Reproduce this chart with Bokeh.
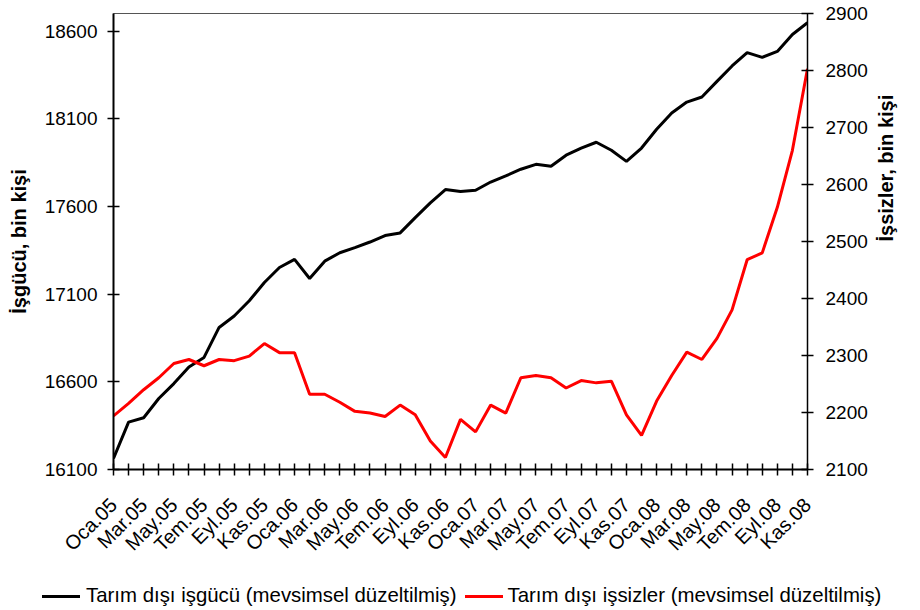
import math
from bokeh.plotting import figure
from bokeh.layouts import column
from bokeh.models import Range1d, LinearAxis, FixedTicker, Div
from bokeh.embed import file_html
from bokeh.resources import INLINE

# ---- data ----
month_names = ["Oca", "Şub", "Mar", "Nis", "May", "Haz", "Tem", "Ağu", "Eyl", "Eki", "Kas", "Ara"]
years = ["05", "06", "07", "08"]
categories = [f"{m}.{y}" for y in years for m in month_names][:47]  # Oca.05 .. Kas.08

labor_force = [16163, 16370, 16395, 16505, 16590, 16685, 16739, 16910, 16975, 17062,
               17166, 17252, 17298, 17189, 17288, 17336, 17365, 17397, 17434, 17449,
               17536, 17620, 17696, 17685, 17692, 17739, 17774, 17812, 17840, 17829,
               17892, 17932, 17966, 17920, 17857, 17933, 18040, 18133, 18195, 18224,
               18313, 18401, 18477, 18450, 18484, 18580, 18648]

unemployed = [2194, 2216, 2240, 2261, 2286, 2293, 2282, 2293, 2291, 2299,
              2321, 2305, 2305, 2232, 2232, 2218, 2202, 2199, 2193, 2213,
              2196, 2150, 2121, 2188, 2166, 2213, 2199, 2261, 2265, 2261,
              2243, 2256, 2252, 2255, 2196, 2160, 2220, 2265, 2306, 2293,
              2330, 2380, 2468, 2480, 2560, 2660, 2803]

left_ticks = [16100, 16600, 17100, 17600, 18100, 18600]
right_ticks = [2100, 2200, 2300, 2400, 2500, 2600, 2700, 2800, 2900]

series_names = ["Tarım dışı işgücü (mevsimsel düzeltilmiş)",
                "Tarım dışı işsizler (mevsimsel düzeltilmiş)"]
series_colors = ["black", "#FF0000"]
left_title = "İşgücü, bin kişi"
right_title = "İşsizler, bin kişi"

FONT = "Liberation Sans"
xs = list(range(len(categories)))

p = figure(width=910, height=570, output_backend="svg", toolbar_location=None,
           x_range=Range1d(0, len(categories) - 1), y_range=Range1d(16100, 18700),
           min_border_left=113, min_border_right=97, min_border_top=13, min_border_bottom=101)
p.extra_y_ranges = {"right": Range1d(2100, 2900)}

p.xgrid.visible = False
p.ygrid.visible = False
p.outline_line_color = "#555555"
p.outline_line_width = 1
p.background_fill_color = "white"
p.border_fill_color = "white"

p.line(xs, labor_force, line_color=series_colors[0], line_width=3)
p.line(xs, unemployed, line_color=series_colors[1], line_width=3, y_range_name="right")

# x axis
xa = p.xaxis[0]
xa.ticker = FixedTicker(ticks=xs)
xa.major_label_overrides = {i: (categories[i] if i % 2 == 0 else "") for i in xs}
xa.major_label_orientation = math.pi / 4
xa.major_label_text_font = FONT
xa.major_label_text_font_size = "20px"
xa.major_label_text_color = "black"
xa.major_tick_in = 6
xa.major_tick_out = 6
xa.minor_tick_line_color = None
xa.axis_line_width = 2
xa.major_tick_line_width = 1.5
xa.major_label_standoff = 26

# left axis
ya = p.yaxis[0]
ya.ticker = FixedTicker(ticks=left_ticks)
ya.axis_label = left_title
ya.axis_label_text_font = FONT
ya.axis_label_text_font_size = "20px"
ya.axis_label_text_font_style = "bold"
ya.axis_label_text_color = "black"
ya.axis_label_standoff = 12
ya.major_label_text_font = FONT
ya.major_label_text_font_size = "19px"
ya.major_label_text_color = "black"
ya.major_tick_in = 6
ya.major_tick_out = 6
ya.minor_tick_line_color = None
ya.axis_line_width = 2
ya.major_tick_line_width = 1.5
ya.major_label_standoff = 10

# right axis
ra = LinearAxis(y_range_name="right", ticker=FixedTicker(ticks=right_ticks))
ra.axis_label = right_title
ra.axis_label_orientation = math.pi / 2
ra.axis_label_text_font = FONT
ra.axis_label_text_font_size = "20px"
ra.axis_label_text_font_style = "bold"
ra.axis_label_text_color = "black"
ra.axis_label_standoff = 15
ra.major_label_text_font = FONT
ra.major_label_text_font_size = "19px"
ra.major_label_text_color = "black"
ra.major_tick_in = 6
ra.major_tick_out = 6
ra.minor_tick_line_color = None
ra.axis_line_width = 1.5
ra.major_tick_line_width = 1.5
ra.major_label_standoff = 12
p.add_layout(ra, "right")

# ---- legend strip below the chart ----
def swatch(color, left_gap, right_gap):
    return (f'<span style="display:inline-block;width:38px;height:3px;background:{color};'
            f'vertical-align:middle;margin-left:{left_gap}px;margin-right:{right_gap}px;"></span>')

legend_html = (
    f'<div style="font-family:\'{FONT}\',Arial,sans-serif;font-size:20.4px;color:black;'
    f'white-space:nowrap;line-height:24px;padding-top:13px;padding-left:42px;">'
    f'{swatch(series_colors[0], 0, 6)}<span>{series_names[0]}</span>'
    f'{swatch(series_colors[1], 8, 5)}<span>{series_names[1]}</span>'
    f'</div>'
)
legend_div = Div(text=legend_html, width=910, height=38, margin=0)

layout = column(p, legend_div, spacing=0)
open("out.html", "w").write(file_html(layout, INLINE))
